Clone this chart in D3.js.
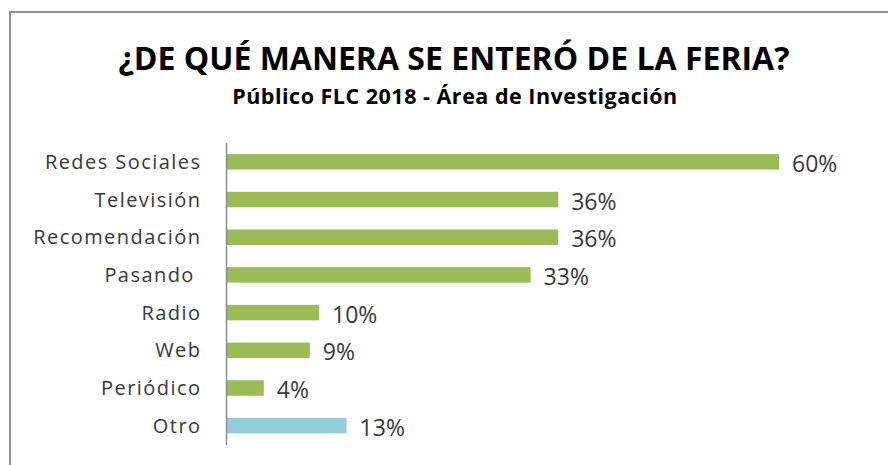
<!DOCTYPE html>
<html><head><meta charset="utf-8">
<script src="https://cdn.jsdelivr.net/npm/d3@7"></script>
<style>html,body{margin:0;padding:0;background:#fff;}svg{display:block;}</style>
</head><body>
<script>
const categories = ["Redes Sociales","Televisión","Recomendación","Pasando ","Radio","Web","Periódico","Otro"];
const values = [60, 36, 36, 33, 10, 9, 4, 13];
const valueLabels = ["60%","36%","36%","33%","10%","9%","4%","13%"];
const barColors = ["#9BBB59","#9BBB59","#9BBB59","#9BBB59","#9BBB59","#9BBB59","#9BBB59","#92CDDC"];
const title = "¿DE QUÉ MANERA SE ENTERÓ DE LA FERIA?";
const subtitle = "Público FLC 2018 - Área de Investigación";

const W = 888, H = 465;
const svg = d3.select("body").append("svg").attr("width", W).attr("height", H);
svg.append("rect").attr("width", W).attr("height", H).attr("fill", "#fff");

// frame
svg.append("path").attr("d", `M10,${H} L10,12 L${W},12`)
  .attr("fill","none").attr("stroke","#8f8f8f").attr("stroke-width",2);

svg.append("text").text(title)
  .attr("x", 454).attr("y", 69.5).attr("text-anchor","middle")
  .attr("font-family","'Open Sans'").attr("font-weight","bold").attr("font-size",32)
  .attr("fill","#000");
svg.append("text").text(subtitle)
  .attr("x", 455).attr("y", 103.5).attr("text-anchor","middle")
  .attr("font-family","'Open Sans'").attr("font-weight","bold").attr("font-size",21.5)
  .attr("letter-spacing","0.5px")
  .attr("fill","#000");

const x = d3.scaleLinear().domain([0, 60]).range([227, 779]);
const y = d3.scaleBand().domain(categories).range([143, 444.5]).paddingInner(0.59).paddingOuter(0.295);

svg.selectAll("rect.bar").data(categories).join("rect").attr("class","bar")
  .attr("x", x(0)).attr("y", d => y(d))
  .attr("width", (d,i) => x(values[i]) - x(0))
  .attr("height", y.bandwidth())
  .attr("fill", (d,i) => barColors[i]);

// category axis
const yAxis = d3.axisLeft(y).tickSize(0).tickPadding(25);
const gy = svg.append("g").attr("transform", `translate(226.5,0)`).call(yAxis);
gy.select(".domain").attr("d", "M0,143V445").attr("stroke","#888").attr("stroke-width",1.4);
gy.selectAll("text")
  .attr("font-family","'Open Sans'").attr("font-size",20).attr("fill","#383838")
  .attr("letter-spacing","1.45px").style("white-space","pre")
  .attr("dy","0.36em");

svg.selectAll("text.val").data(categories).join("text").attr("class","val")
  .attr("x", (d,i) => x(values[i]) + 13)
  .attr("y", d => y(d) + y.bandwidth()/2)
  .attr("dy","0.44em")
  .attr("font-family","'Open Sans'").attr("font-size",23).attr("fill","#383838")
  .text((d,i) => valueLabels[i]);
</script>
</body></html>
